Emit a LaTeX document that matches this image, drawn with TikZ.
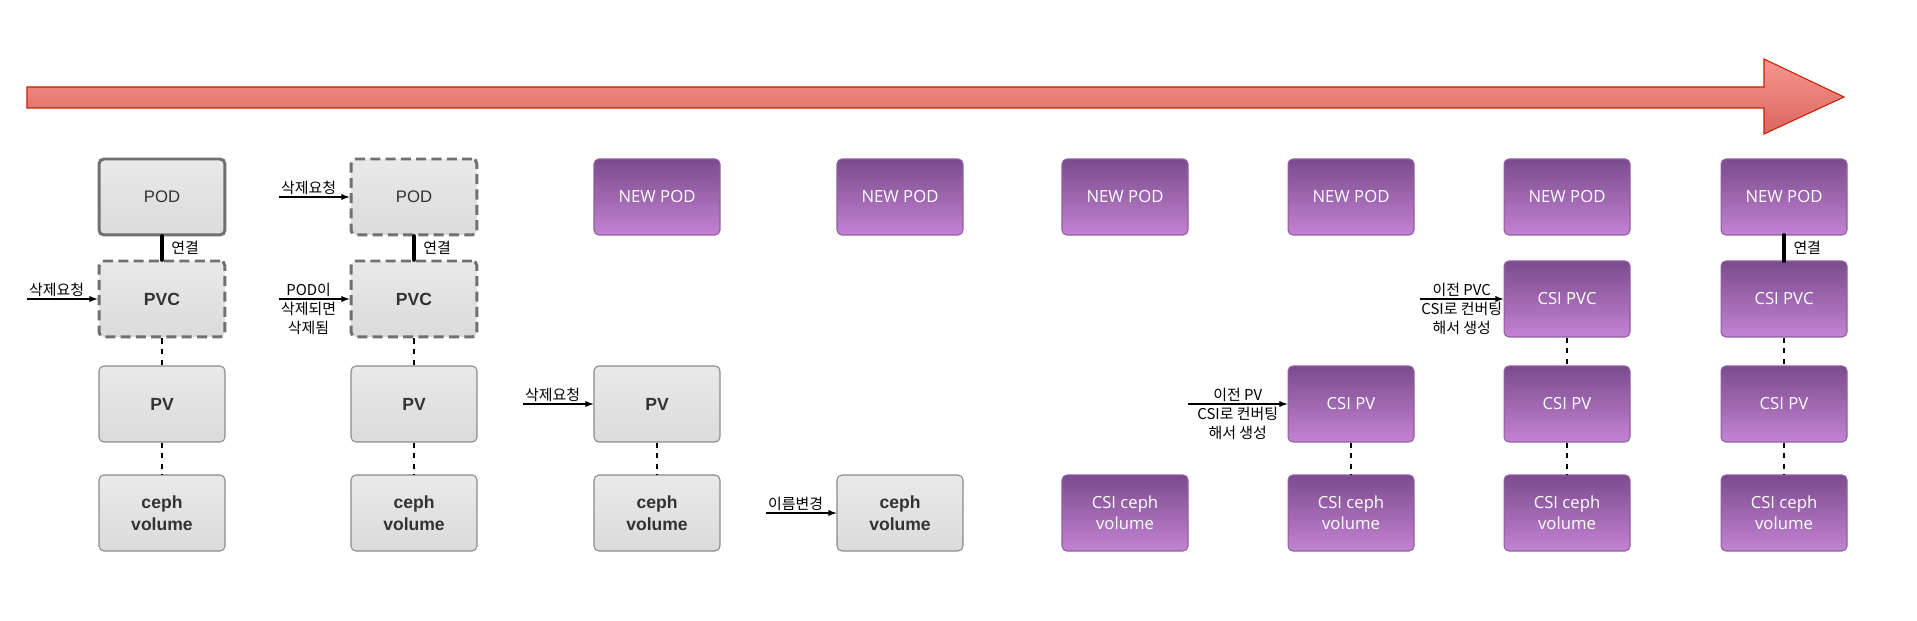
\documentclass[tikz,border=0pt]{standalone}
\usepackage{fontspec}
\setmainfont{Liberation Sans}
\newfontfamily\kr{Noto Sans CJK KR}
\newfontfamily\opn{Open Sans}
\usepackage{xcolor}
\usepackage{tikz}
\usetikzlibrary{calc}

\definecolor{grayTop}{HTML}{E9E9E9}
\definecolor{grayBot}{HTML}{DBDBDB}
\definecolor{grayEdge}{HTML}{8A8A8A}
\definecolor{grayText}{HTML}{333333}
\definecolor{podEdge}{HTML}{707070}
\definecolor{csiTop}{HTML}{7B4B8D}
\definecolor{csiBot}{HTML}{C383D3}
\definecolor{csiEdge}{HTML}{8F5EA0}
\definecolor{arrowTop}{HTML}{F7968E}
\definecolor{arrowBot}{HTML}{DA665F}
\definecolor{arrowEdge}{HTML}{C81E00}

\tikzset{
	box/.style = {rectangle, rounded corners = 2.8pt, minimum width = 2.52cm, minimum height = 1.52cm, inner sep = 0pt, align = center},
	graybox/.style = {box, top color = grayTop, bottom color = grayBot, draw = grayEdge, line width = 0.6pt, text = grayText, font = \bfseries\fontsize{10}{12.5}\selectfont},
	podbox/.style = {graybox, draw = podEdge, line width = 1.7pt, font = \mdseries\fontsize{9.5}{11}\selectfont},
	gonebox/.style = {graybox, draw = podEdge, line width = 1.7pt, dash pattern = on 5.7pt off 3pt},
	csibox/.style = {box, top color = csiTop, bottom color = csiBot, draw = csiEdge, line width = 0.6pt, text = white, font = \opn\fontsize{9.5}{12}\selectfont},
	link/.style = {line width = 2.8pt, line cap = round},
	chain/.style = {dashed, line width = 0.6pt},
	req/.style = {-latex, line width = 0.6pt},
	note/.style = {font = \kr\fontsize{8.5}{11}\selectfont, inner sep = 1pt, align = center}
}

\begin{document}
\begin{tikzpicture}[x = 0.02cm, y = -0.02cm]
		\def\rpod{197}
		\def\rpvc{299}
		\def\rpv{404}
		\def\rvol{513}
		
		\useasboundingbox (0,0) rectangle (1917,621);
		
		\draw [draw = arrowEdge, line width = 0.6pt, top color = arrowTop, bottom color = arrowBot] (27,87) -- (1764,87) -- (1764,59) -- (1844,97) -- (1764,134) -- (1764,108) -- (27,108) -- cycle;
		
		\node [podbox] (pod1) at (162,\rpod) {POD};
		\node [gonebox] (pvc1) at (162,\rpvc) {PVC};
		\node [graybox] (pv1) at (162,\rpv) {PV};
		\node [graybox] (vol1) at (162,\rvol) {ceph\\volume};
		
		\node [gonebox, font = \mdseries\fontsize{9.5}{11}\selectfont] (pod2) at (414,\rpod) {POD};
		\node [gonebox] (pvc2) at (414,\rpvc) {PVC};
		\node [graybox] (pv2) at (414,\rpv) {PV};
		\node [graybox] (vol2) at (414,\rvol) {ceph\\volume};
		
		\foreach \c/\x in {3/657, 4/900, 5/1125, 6/1351, 7/1567, 8/1784}
			\node [csibox] (newpod\c) at (\x,\rpod) {NEW POD};
		
		\node [graybox] (pv3) at (657,\rpv) {PV};
		\node [graybox] (vol3) at (657,\rvol) {ceph\\volume};
		\node [graybox] (vol4) at (900,\rvol) {ceph\\volume};
		\node [csibox] (csivol5) at (1125,\rvol) {CSI ceph\\volume};
		\node [csibox] (csipv6) at (1351,\rpv) {CSI PV};
		\node [csibox] (csivol6) at (1351,\rvol) {CSI ceph\\volume};
		\node [csibox] (csipvc7) at (1567,\rpvc) {CSI PVC};
		\node [csibox] (csipv7) at (1567,\rpv) {CSI PV};
		\node [csibox] (csivol7) at (1567,\rvol) {CSI ceph\\volume};
		\node [csibox] (csipvc8) at (1784,\rpvc) {CSI PVC};
		\node [csibox] (csipv8) at (1784,\rpv) {CSI PV};
		\node [csibox] (csivol8) at (1784,\rvol) {CSI ceph\\volume};
		
		\draw [link] (pod1) -- node [note, right, xshift = 3pt] {연결} (pvc1);
		\draw [link] (pod2) -- node [note, right, xshift = 3pt] {연결} (pvc2);
		\draw [link] (newpod8) -- node [note, right, xshift = 3pt] {연결} (csipvc8);
		
		\draw [chain] (pvc1) -- (pv1);
		\draw [chain] (pv1) -- (vol1);
		\draw [chain] (pvc2) -- (pv2);
		\draw [chain] (pv2) -- (vol2);
		\draw [chain] (pv3) -- (vol3);
		\draw [chain] (csipv6) -- (csivol6);
		\draw [chain] (csipvc7) -- (csipv7);
		\draw [chain] (csipv7) -- (csivol7);
		\draw [chain] (csipvc8) -- (csipv8);
		\draw [chain] (csipv8) -- (csivol8);
		
		\coordinate (del1) at (27,\rpvc);
		\coordinate (del2) at (279,\rpod);
		\coordinate (cascade2) at (279,\rpvc);
		\coordinate (del3) at (523,\rpv);
		\coordinate (rename4) at (766,\rvol);
		\coordinate (convert6) at (1188,\rpv);
		\coordinate (convert7) at (1420,\rpvc);
		
		\draw [req] (del1) -- (pvc1.west);
		\node [note, above right] at (del1) {삭제요청};
		\draw [req] (del2) -- (pod2.west);
		\node [note, above right] at (del2) {삭제요청};
		\draw [req] (cascade2) -- (pvc2.west);
		\node [note, anchor = west, yshift = -0.2cm] at (cascade2) {POD이\\삭제되면\\삭제됨};
		\draw [req] (del3) -- (pv3.west);
		\node [note, above right] at (del3) {삭제요청};
		\draw [req] (rename4) -- (vol4.west);
		\node [note, above right] at (rename4) {이름변경};
		\draw [req] (convert6) -- node [note, yshift = -0.2cm] {이전 PV\\CSI로 컨버팅\\해서 생성} (csipv6.west);
		\draw [req] (convert7) -- node [note, yshift = -0.2cm] {이전 PVC\\CSI로 컨버팅\\해서 생성} (csipvc7.west);
	\end{tikzpicture}
\end{document}
